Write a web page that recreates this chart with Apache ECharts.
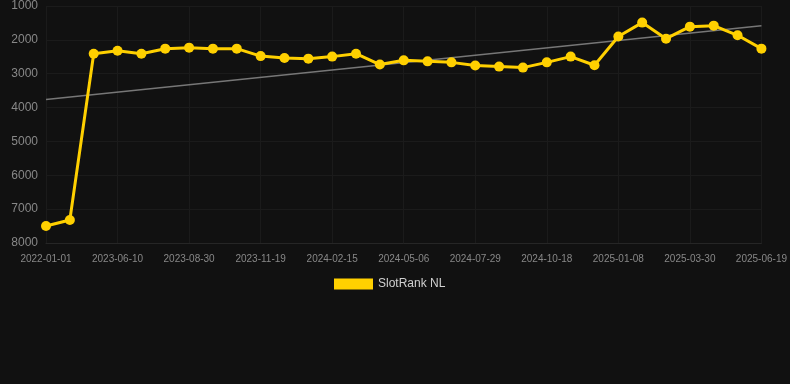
<!DOCTYPE html>
<html>
<head>
<meta charset="utf-8">
<script src="https://cdn.jsdelivr.net/npm/echarts@6/dist/echarts.min.js"></script>
<style>
  html, body { margin: 0; padding: 0; background: #111111; }
  #chart { width: 790px; height: 384px; }
</style>
</head>
<body>
<div id="chart"></div>
<script>
// dates between the labelled ones are estimates (~27 days apart)
const dates = [
  '2022-01-01', '2023-04-17', '2023-05-14', '2023-06-10', '2023-07-07', '2023-08-03',
  '2023-08-30', '2023-09-26', '2023-10-23', '2023-11-19', '2023-12-16', '2024-01-12',
  '2024-02-15', '2024-03-13', '2024-04-09', '2024-05-06', '2024-06-02', '2024-07-02',
  '2024-07-29', '2024-08-25', '2024-09-21', '2024-10-18', '2024-11-14', '2024-12-11',
  '2025-01-08', '2025-02-04', '2025-03-03', '2025-03-30', '2025-04-26', '2025-05-23',
  '2025-06-19'
];

const ranks = [
  7500, 7320, 2410, 2320, 2410, 2260, 2230, 2260, 2260, 2480, 2535,
  2555, 2495, 2410, 2730, 2605, 2635, 2665, 2760, 2790, 2820, 2665,
  2495, 2750, 1900, 1490, 1965, 1610, 1580, 1865, 2260
];

// trend line end points
const trendStart = 3760;
const trendEnd = 1580;

const chart = echarts.init(document.getElementById('chart'));

const option = {
  backgroundColor: '#111111',
  animation: false,
  grid: {
    left: 46,
    right: 28,
    top: 6,
    bottom: 141
  },
  legend: {
    bottom: 89,
    left: 329,
    itemWidth: 39,
    itemHeight: 11,
    itemGap: 10,
    icon: 'rect',
    textStyle: { color: '#d0d0d0', fontSize: 12, fontFamily: 'Arial, Liberation Sans, sans-serif' },
    data: ['SlotRank NL']
  },
  xAxis: {
    type: 'category',
    data: dates,
    boundaryGap: false,
    axisLine: { lineStyle: { color: '#262626' } },
    axisTick: { show: false },
    axisLabel: {
      interval: 2,
      color: '#888888',
      fontSize: 10,
      margin: 11,
      fontFamily: 'Arial, Liberation Sans, sans-serif'
    },
    splitLine: {
      show: true,
      interval: 2,
      lineStyle: { color: '#1b1b1b' }
    }
  },
  yAxis: {
    type: 'value',
    inverse: true,
    min: 1000,
    max: 8000,
    interval: 1000,
    axisLine: { show: false },
    axisTick: { show: false },
    axisLabel: {
      color: '#888888',
      fontSize: 12,
      margin: 8,
      formatter: (v) => String(v),
      fontFamily: 'Arial, Liberation Sans, sans-serif'
    },
    splitLine: { lineStyle: { color: '#1b1b1b' } }
  },
  series: [
    {
      name: 'Trend',
      type: 'line',
      data: [[0, trendStart], [dates.length - 1, trendEnd]],
      symbol: 'none',
      lineStyle: { color: '#777777', width: 1.5 },
      silent: true,
      z: 1
    },
    {
      name: 'SlotRank NL',
      type: 'line',
      data: ranks,
      symbol: 'circle',
      symbolSize: 10,
      itemStyle: { color: '#ffd000' },
      lineStyle: { color: '#ffd000', width: 3 },
      z: 2
    }
  ]
};

chart.setOption(option);
</script>
</body>
</html>
